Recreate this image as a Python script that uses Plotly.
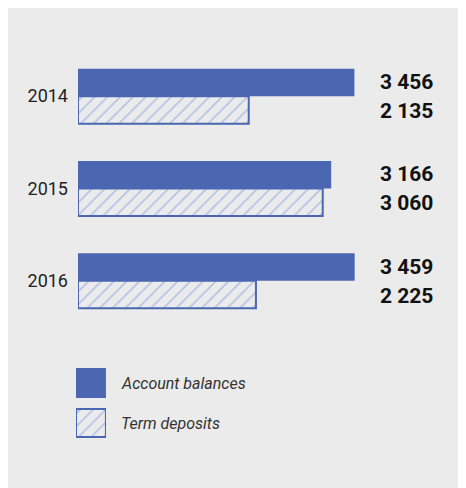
import plotly.graph_objects as go

years = ["2014", "2015", "2016"]
account_balances = [3456, 3166, 3459]
term_deposits = [2135, 3060, 2225]
series_names = ["Account balances", "Term deposits"]

blue = "#4c67b1"
hatch = "#aebce6"
panel = "#ebebeb"
font = "Roboto, sans-serif"


def fmt(v):
    return "{:,}".format(v).replace(",", " ")


hatched = dict(color="rgba(0,0,0,0)",
               line=dict(color=blue, width=2),
               pattern=dict(shape="/", fgcolor=hatch, bgcolor="rgba(0,0,0,0)",
                            fillmode="replace", size=9, solidity=0.17))

fig = go.Figure()

fig.add_trace(go.Bar(y=years, x=account_balances, orientation="h",
                     name=series_names[0], marker=dict(color=blue, line=dict(width=0)),
                     xaxis="x", yaxis="y", offsetgroup="a"))
fig.add_trace(go.Bar(y=years, x=term_deposits, orientation="h",
                     name=series_names[1], marker=hatched,
                     xaxis="x", yaxis="y", offsetgroup="b"))

# legend swatches drawn as bars on their own small axes
fig.add_trace(go.Bar(y=[series_names[0]], x=[1], orientation="h",
                     marker=dict(color=blue, line=dict(width=0)),
                     xaxis="x2", yaxis="y2", width=0.75))
fig.add_trace(go.Bar(y=[series_names[1]], x=[1], orientation="h",
                     marker=hatched, xaxis="x2", yaxis="y2", width=0.70))

annotations = []
for i, (a, t) in enumerate(zip(account_balances, term_deposits)):
    for val, shift in ((a, 14), (t, -15)):
        annotations.append(dict(x=0.971, xref="paper", y=i, yref="y", yshift=shift,
                                text=fmt(val), showarrow=False, xanchor="right",
                                font=dict(family=font, size=21, color="#111", weight="bold")))
for i, name in enumerate(series_names):
    annotations.append(dict(x=1, xref="x2", y=i, yref="y2", xshift=13,
                            text=name, showarrow=False, xanchor="left",
                            font=dict(family=font, size=16, color="#333", style="italic")))

fig.update_layout(
    width=466, height=488,
    margin=dict(l=52, r=28, t=32, b=48),
    paper_bgcolor=panel, plot_bgcolor="rgba(0,0,0,0)",
    barmode="group", bargap=0.404, bargroupgap=0,
    showlegend=False,
    annotations=annotations,
    xaxis=dict(domain=[0.0466, 0.979], range=[0, 4500], visible=False, anchor="y"),
    yaxis=dict(type="category", categoryorder="array", categoryarray=years,
               domain=[0.2966, 0.9755], range=[2.5, -0.5], anchor="x",
               showgrid=False, zeroline=False, showline=False, ticks="",
               ticklabelstandoff=9,
               tickfont=dict(family=font, size=18, color="#222")),
    xaxis2=dict(domain=[0.0415, 0.119], range=[0, 1], visible=False, anchor="y2"),
    yaxis2=dict(type="category", domain=[0.01225, 0.2083], range=[1.5, -0.5],
                visible=False, anchor="x2"),
)

fig.write_html("out.html")
